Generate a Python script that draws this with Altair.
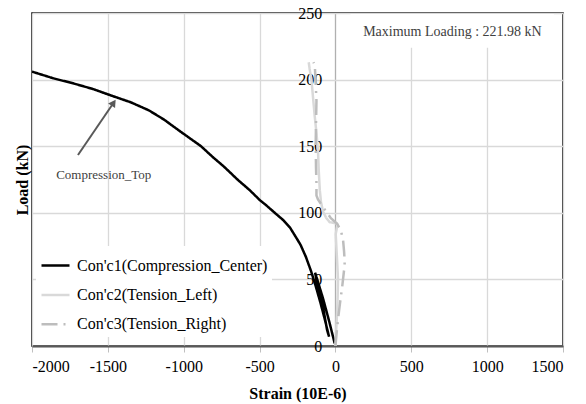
import altair as alt
import pandas as pd

# ---- data ----
series_names = ["Con'c1(Compression_Center)", "Con'c2(Tension_Left)", "Con'c3(Tension_Right)"]

c1_strain = [-5, -40, -80, -120, -134, -110, -80, -55, -42, -70, -100, -130, -160, -195, -230, -262,
             -300, -345, -400, -460, -499, -565, -642, -738, -810, -886, -960, -1034, -1130, -1231,
             -1350, -1477, -1600, -1723, -1860, -2000]
c1_load = [2, 18, 35, 50, 55, 42, 28, 12, 7, 20, 33, 45, 56, 67, 76, 82,
           89, 94.6, 100, 106, 109.6, 117, 124.6, 135, 142, 150, 156, 162, 170, 177,
           183, 188, 193, 197, 201, 206]

c2_strain = [0, 5, 11, 15, 17, 12, 6, 2, 10, 15, 7, -16, -38, -60, -82, -95, -103, -110, -115,
             -125, -136, -148, -158, -170, -176]
c2_load = [0, 12, 25, 38, 50, 62, 75, 84, 89, 91, 92, 92.5, 93, 96, 101, 108, 117, 132, 147,
           160, 172, 187, 200, 208, 213]

c3_strain = [0, 8, 17, 30, 45, 55, 61, 60, 57, 50, 35, 20, 10, -30, -80, -115, -125, -125, -128,
             -130, -128, -125, -130, -136, -145]
c3_load = [0, 10, 20, 32, 45, 55, 61, 65, 71, 80, 87, 90, 92, 96, 104, 110, 113, 122, 134,
           152, 167, 184, 197, 211, 213]

x_ticks = [-2000, -1500, -1000, -500, 0, 500, 1000, 1500]
y_ticks = [0, 50, 100, 150, 200, 250]

max_text = ["Maximum Loading : 221.98 kN"]
max_text_pos = [771, 235.7]
max_box = [100, 1440, 224, 249.3]

top_text = ["Compression_Top"]
top_text_pos = [-1527, 128.4]
arrow_strain = [-1697, -1462]
arrow_load = [143.4, 182.6]

# ---- build tables ----
rows = []
for name, xs, ys in zip(series_names, [c1_strain, c2_strain, c3_strain], [c1_load, c2_load, c3_load]):
    for i, (a, b) in enumerate(zip(xs, ys)):
        rows.append({"series": name, "strain": a, "load": b, "idx": i})
df = pd.DataFrame(rows)

FONT = "Liberation Serif"

x_scale = alt.Scale(domain=[-2000, 1500], nice=False, zero=False)
y_scale = alt.Scale(domain=[0, 250], nice=False)

legend = alt.Legend(
    title=None, orient="none", legendX=4, legendY=233, fillColor="white", padding=4,
    symbolType="stroke", symbolSize=784, symbolStrokeWidth=2.5, labelFont=FONT,
    labelFontSize=16, labelColor="black", labelOffset=6, rowPadding=5.4, labelLimit=400,
)

lines = alt.Chart(df).mark_line(strokeWidth=2.5, clip=True).encode(
    x=alt.X("strain:Q", scale=x_scale, axis=alt.Axis(
        values=x_ticks, title="Strain (10E-6)", labelExpr="toString(datum.value)",
        grid=True, gridColor={"condition": {"test": "datum.value === 0", "value": "#b0b0b0"}, "value": "#d9d9d9"},
        gridWidth=1.3,
        domainColor="#595959", domainWidth=2, tickColor="#bfbfbf", tickSize=6,
        labelFont=FONT, labelFontSize=16, labelColor="black", labelPadding=6,
        titleFont=FONT, titleFontSize=16, titleFontWeight="bold", titleColor="black", titlePadding=11,
    )),
    y=alt.Y("load:Q", scale=y_scale, axis=alt.Axis(
        values=y_ticks, title="Load (kN)", grid=True, gridColor="#d9d9d9", gridWidth=1.3,
        domain=False, ticks=True, tickSize=0, offset=-303.7, labelPadding=14,
        labelFont=FONT, labelFontSize=16, labelColor="black",
        titleFont=FONT, titleFontSize=16, titleFontWeight="bold", titleColor="black",
        titleX=-313.7, titleY=166.5, titleAngle=270, titleAlign="center", titleBaseline="middle",
    )),
    color=alt.Color("series:N", scale=alt.Scale(domain=series_names, range=["#000000", "#d9d9d9", "#bdbdbd"]),
                    legend=legend),
    strokeDash=alt.StrokeDash("series:N", scale=alt.Scale(domain=series_names, range=[[1, 0], [1, 0], [16, 6, 2, 6]]),
                              legend=legend),
    order="idx:Q",
)

box_df = pd.DataFrame({"x": [max_box[0]], "x2": [max_box[1]], "y": [max_box[2]], "y2": [max_box[3]]})
box = alt.Chart(box_df).mark_rect(color="white").encode(
    x="x:Q", x2="x2:Q", y="y:Q", y2="y2:Q")

max_df = pd.DataFrame({"t": max_text, "x": [max_text_pos[0]], "y": [max_text_pos[1]]})
max_label = alt.Chart(max_df).mark_text(font=FONT, fontSize=14, color="#404040").encode(
    x="x:Q", y="y:Q", text="t:N")

top_df = pd.DataFrame({"t": top_text, "x": [top_text_pos[0]], "y": [top_text_pos[1]]})
top_label = alt.Chart(top_df).mark_text(font=FONT, fontSize=13, color="#404040").encode(
    x="x:Q", y="y:Q", text="t:N")

arrow_df = pd.DataFrame({"x": arrow_strain, "y": arrow_load, "i": [0, 1]})
arrow_line = alt.Chart(arrow_df).mark_line(color="#595959", strokeWidth=2).encode(
    x="x:Q", y="y:Q", order="i:Q")
head_df = pd.DataFrame({"x": [arrow_strain[1]], "y": [arrow_load[1]]})
arrow_head = alt.Chart(head_df).mark_point(shape="triangle-up", filled=True, size=70, angle=34,
                                           color="#595959", opacity=1).encode(x="x:Q", y="y:Q")

chart = alt.layer(box, lines, max_label, top_label, arrow_line, arrow_head).properties(
    width=531, height=333,
    autosize=alt.AutoSizeParams(type="none"),
    padding={"left": 32, "top": 13, "right": 23, "bottom": 58},
    background="white",
).configure_view(stroke="black", strokeWidth=1.5)

chart.save("out.html", embed_options={"renderer": "svg", "actions": False})
